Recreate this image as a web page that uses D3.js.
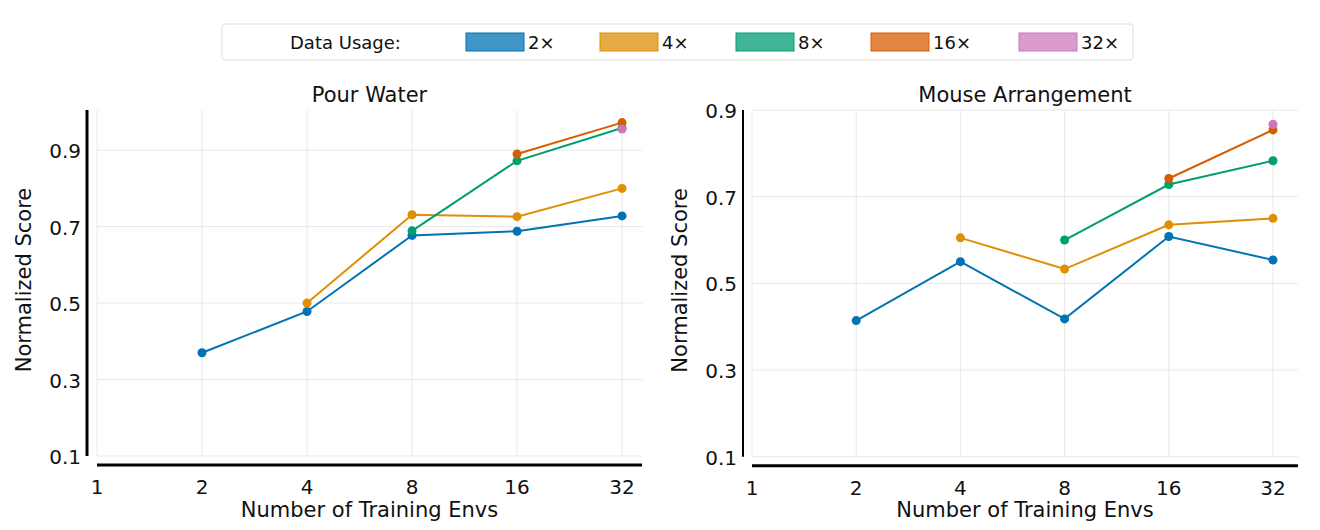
<!DOCTYPE html>
<html lang="en">
<head>
<meta charset="UTF-8">
<title>Data Usage Scaling</title>
<script src="https://d3js.org/d3.v7.min.js"></script>
<style>
  body { margin: 0; background: #fff; }
  text { font-family: "DejaVu Sans", sans-serif; fill: #111; }
</style>
</head>
<body>
<svg id="chart" width="1320" height="530"></svg>
<script>
const envTicks = [1, 2, 4, 8, 16, 32];
const yTicks = [0.1, 0.3, 0.5, 0.7, 0.9];
const seriesNames = ["2×", "4×", "8×", "16×", "32×"];
const colors = ["#0173b2", "#de8f05", "#029e73", "#d55e00", "#cc78bc"];

// pour water: [envs, score]
const pour2x = [[2, 0.370], [4, 0.478], [8, 0.677], [16, 0.688], [32, 0.728]];
const pour4x = [[4, 0.500], [8, 0.731], [16, 0.726], [32, 0.800]];
const pour8x = [[8, 0.689], [16, 0.872], [32, 0.958]];
const pour16x = [[16, 0.890], [32, 0.972]];
const pour32x = [[32, 0.955]];

// mouse arrangement
const mouse2x = [[2, 0.414], [4, 0.550], [8, 0.418], [16, 0.608], [32, 0.554]];
const mouse4x = [[4, 0.605], [8, 0.533], [16, 0.635], [32, 0.650]];
const mouse8x = [[8, 0.600], [16, 0.728], [32, 0.783]];
const mouse16x = [[16, 0.742], [32, 0.854]];
const mouse32x = [[32, 0.867]];

const svg = d3.select("#chart");

const panels = [
  { title: "Pour Water", series: [pour2x, pour4x, pour8x, pour16x, pour32x],
    x0: 97, x1: 642, xMax: Math.pow(2, 5.19), yTop: 110, yBot: 456, yMax: 1.005,
    spineX: 87, spineW: 3 },
  { title: "Mouse Arrangement", series: [mouse2x, mouse4x, mouse8x, mouse16x, mouse32x],
    x0: 752, x1: 1298, xMax: Math.pow(2, 5.24), yTop: 110, yBot: 456.7, yMax: 0.9,
    spineX: 743, spineW: 2 }
];

panels.forEach(p => {
  const x = d3.scaleLog().base(2).domain([1, p.xMax]).range([p.x0, p.x1]);
  const y = d3.scaleLinear().domain([0.1, p.yMax]).range([p.yBot, p.yTop]);
  const g = svg.append("g");

  // grid
  g.selectAll(".gx").data(envTicks).join("line")
    .attr("x1", d => x(d)).attr("x2", d => x(d))
    .attr("y1", p.yTop).attr("y2", p.yBot)
    .attr("stroke", "#e8e8e8").attr("stroke-width", 1);
  g.selectAll(".gy").data(yTicks).join("line")
    .attr("x1", p.x0).attr("x2", p.x1)
    .attr("y1", d => y(d)).attr("y2", d => y(d))
    .attr("stroke", "#e8e8e8").attr("stroke-width", 1);

  // spines
  g.append("line").attr("x1", p.spineX).attr("x2", p.spineX)
    .attr("y1", p.yTop).attr("y2", p.yBot)
    .attr("stroke", "#000").attr("stroke-width", p.spineW);
  g.append("line").attr("x1", p.x0).attr("x2", p.x1)
    .attr("y1", p.yBot + 9).attr("y2", p.yBot + 9)
    .attr("stroke", "#000").attr("stroke-width", 3);

  // tick labels
  g.selectAll(".tx").data(envTicks).join("text")
    .attr("x", d => x(d)).attr("y", p.yBot + 38)
    .attr("text-anchor", "middle").attr("font-size", 20).text(d => d);
  g.selectAll(".ty").data(yTicks).join("text")
    .attr("x", p.spineX - 6).attr("y", d => y(d) + 8)
    .attr("text-anchor", "end").attr("font-size", 20).text(d => d.toFixed(1));

  // labels
  g.append("text").attr("x", (p.x0 + p.x1) / 2).attr("y", 517)
    .attr("text-anchor", "middle").attr("font-size", 21).text("Number of Training Envs");
  g.append("text")
    .attr("transform", `translate(${p.spineX - 56},${(p.yTop + p.yBot) / 2 - 3}) rotate(-90)`)
    .attr("text-anchor", "middle").attr("font-size", 21).text("Normalized Score");
  g.append("text").attr("x", (p.x0 + p.x1) / 2).attr("y", 102)
    .attr("text-anchor", "middle").attr("font-size", 21).text(p.title);

  const line = d3.line().x(d => x(d[0])).y(d => y(d[1]));
  p.series.forEach((s, i) => {
    g.append("path").datum(s).attr("d", line)
      .attr("fill", "none").attr("stroke", colors[i]).attr("stroke-width", 2);
    g.selectAll(null).data(s).join("circle")
      .attr("cx", d => x(d[0])).attr("cy", d => y(d[1])).attr("r", 4.5)
      .attr("fill", colors[i]);
  });
});

// legend
const leg = svg.append("g");
leg.append("rect").attr("x", 222).attr("y", 24).attr("width", 911).attr("height", 36)
  .attr("rx", 3).attr("fill", "#fff").attr("stroke", "#ddd");
leg.append("text").attr("x", 290).attr("y", 49).attr("font-size", 18).text("Data Usage:");
const legX = [466, 600, 736, 871, 1019];
seriesNames.forEach((n, i) => {
  leg.append("rect").attr("x", legX[i]).attr("y", 33).attr("width", 58).attr("height", 18)
    .attr("fill", colors[i]).attr("fill-opacity", 0.75).attr("stroke", colors[i]);
  leg.append("text").attr("x", legX[i] + 62).attr("y", 49).attr("font-size", 18).text(n);
});
</script>
</body>
</html>
